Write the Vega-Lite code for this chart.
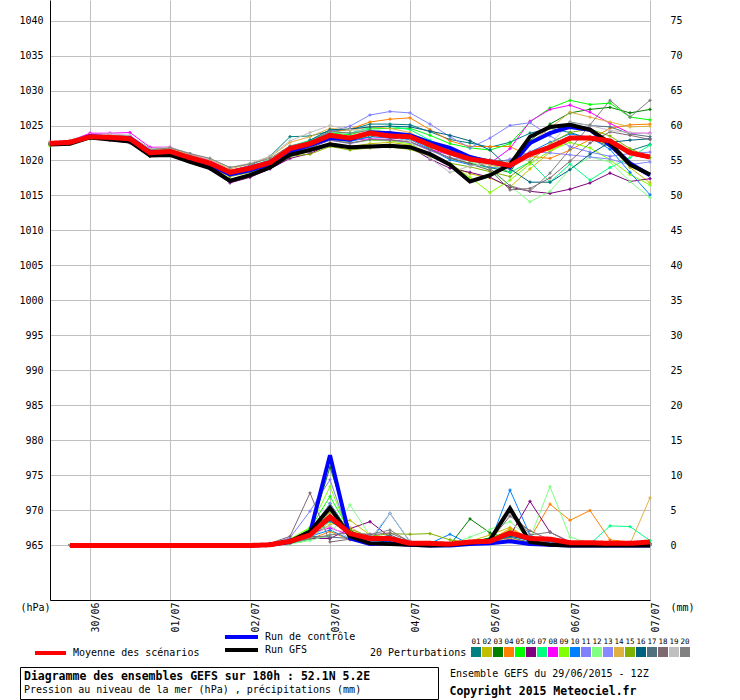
{
  "$schema": "https://vega.github.io/schema/vega-lite/v6.json",
  "width": 600,
  "height": 600,
  "autosize": {"type": "none"},
  "padding": {"left": 50, "top": 0, "right": 90, "bottom": 100},
  "background": "#ffffff",
  "config": {
    "view": {"stroke": null},
    "font": "DejaVu Sans Mono",
    "axis": {
      "labelFont": "DejaVu Sans Mono",
      "labelFontSize": 10,
      "labelColor": "#000000",
      "titleFont": "DejaVu Sans Mono",
      "titleFontSize": 10,
      "titleFontWeight": "normal",
      "titleColor": "#000000",
      "domainColor": "#000000",
      "gridColor": "#c0c0c0",
      "gridOpacity": 1,
      "ticks": false,
      "tickSize": 0,
      "labelFlush": false,
      "labelOverlap": false
    },
    "legend": {
      "labelFont": "DejaVu Sans Mono",
      "labelColor": "#000000",
      "titleFont": "DejaVu Sans Mono",
      "titleColor": "#000000",
      "labelLimit": 1000,
      "titleLimit": 1000
    }
  },
  "datasets": {
    "pres": [
      {"h":0,"01":1022.6,"02":1022.2,"03":1022.3,"04":1022.5,"05":1022.4,"06":1022.3,"07":1022.5,"08":1022.6,"09":1022.1,"10":1022.4,"11":1022.5,"12":1022.3,"13":1022.4,"14":1022.6,"15":1022.2,"16":1022.4,"17":1022.5,"18":1022.3,"19":1022.6,"20":1022.5,"ctrl":1022.4,"gfs":1022.3,"mean":1022.45},
      {"h":6,"01":1022.8,"02":1022.5,"03":1022.5,"04":1022.6,"05":1022.6,"06":1022.4,"07":1022.7,"08":1022.8,"09":1022.4,"10":1022.5,"11":1022.7,"12":1022.5,"13":1022.6,"14":1022.8,"15":1022.4,"16":1022.6,"17":1022.6,"18":1022.5,"19":1022.9,"20":1022.7,"ctrl":1022.5,"gfs":1022.4,"mean":1022.6},
      {"h":12,"01":1023.6,"02":1023.2,"03":1023.3,"04":1023.5,"05":1023.4,"06":1023.2,"07":1023.5,"08":1023.9,"09":1023.2,"10":1023.4,"11":1023.6,"12":1023.3,"13":1023.4,"14":1023.6,"15":1023.1,"16":1023.5,"17":1023.4,"18":1023.3,"19":1023.7,"20":1023.5,"ctrl":1023.5,"gfs":1023.3,"mean":1023.4},
      {"h":18,"01":1023.6,"02":1023.0,"03":1023.1,"04":1023.4,"05":1023.2,"06":1022.9,"07":1023.4,"08":1023.9,"09":1023.0,"10":1023.3,"11":1023.5,"12":1023.1,"13":1023.2,"14":1023.6,"15":1022.9,"16":1023.4,"17":1023.2,"18":1023.1,"19":1023.8,"20":1023.4,"ctrl":1023.3,"gfs":1023.0,"mean":1023.3},
      {"h":24,"01":1023.5,"02":1022.8,"03":1022.9,"04":1023.2,"05":1023.0,"06":1022.5,"07":1023.3,"08":1024.0,"09":1022.8,"10":1023.1,"11":1023.2,"12":1022.9,"13":1023.0,"14":1023.5,"15":1022.7,"16":1023.2,"17":1023.0,"18":1022.8,"19":1023.6,"20":1023.3,"ctrl":1023.2,"gfs":1022.7,"mean":1023.1},
      {"h":30,"01":1021.7,"02":1020.9,"03":1020.9,"04":1021.3,"05":1021.0,"06":1020.6,"07":1021.3,"08":1021.9,"09":1020.8,"10":1021.1,"11":1021.2,"12":1020.9,"13":1021.0,"14":1021.6,"15":1020.7,"16":1021.2,"17":1021.1,"18":1020.9,"19":1021.7,"20":1021.5,"ctrl":1021.2,"gfs":1020.7,"mean":1021.1},
      {"h":36,"01":1021.6,"02":1021.0,"03":1021.2,"04":1021.4,"05":1021.3,"06":1020.8,"07":1021.5,"08":1021.9,"09":1020.9,"10":1021.2,"11":1021.3,"12":1021.1,"13":1021.2,"14":1021.7,"15":1020.9,"16":1021.4,"17":1021.2,"18":1021.1,"19":1021.9,"20":1021.8,"ctrl":1021.2,"gfs":1020.8,"mean":1021.3},
      {"h":42,"01":1020.7,"02":1020.0,"03":1020.3,"04":1020.6,"05":1020.5,"06":1019.8,"07":1020.6,"08":1020.9,"09":1020.0,"10":1020.3,"11":1020.4,"12":1020.2,"13":1020.3,"14":1020.9,"15":1019.9,"16":1020.5,"17":1020.3,"18":1020.2,"19":1021.0,"20":1021.0,"ctrl":1020.3,"gfs":1019.8,"mean":1020.4},
      {"h":48,"01":1019.9,"02":1019.2,"03":1019.5,"04":1019.8,"05":1019.7,"06":1018.8,"07":1019.8,"08":1020.0,"09":1019.2,"10":1019.4,"11":1019.6,"12":1019.4,"13":1019.5,"14":1020.1,"15":1019.1,"16":1019.6,"17":1019.5,"18":1019.3,"19":1020.2,"20":1020.3,"ctrl":1019.4,"gfs":1018.9,"mean":1019.6},
      {"h":54,"01":1018.5,"02":1017.8,"03":1018.0,"04":1018.6,"05":1018.4,"06":1016.8,"07":1018.5,"08":1018.6,"09":1017.8,"10":1018.1,"11":1018.2,"12":1018.1,"13":1018.2,"14":1018.8,"15":1017.7,"16":1018.2,"17":1018.3,"18":1017.9,"19":1019.0,"20":1019.0,"ctrl":1018.0,"gfs":1017.1,"mean":1018.3},
      {"h":60,"01":1019.3,"02":1018.3,"03":1018.5,"04":1019.1,"05":1019.0,"06":1017.6,"07":1019.2,"08":1019.2,"09":1018.6,"10":1018.6,"11":1018.8,"12":1018.7,"13":1018.8,"14":1019.5,"15":1018.3,"16":1018.7,"17":1018.9,"18":1018.5,"19":1019.6,"20":1019.5,"ctrl":1018.6,"gfs":1017.9,"mean":1018.9},
      {"h":66,"01":1020.6,"02":1019.2,"03":1019.3,"04":1020.0,"05":1019.9,"06":1018.8,"07":1020.1,"08":1020.0,"09":1019.6,"10":1019.3,"11":1019.7,"12":1019.6,"13":1019.5,"14":1020.5,"15":1019.1,"16":1019.0,"17":1019.8,"18":1019.4,"19":1020.6,"20":1020.3,"ctrl":1019.5,"gfs":1019.0,"mean":1019.7},
      {"h":72,"01":1023.4,"02":1020.6,"03":1021.2,"04":1021.9,"05":1022.0,"06":1020.3,"07":1022.0,"08":1021.9,"09":1021.5,"10":1021.0,"11":1021.5,"12":1021.6,"13":1021.3,"14":1022.6,"15":1020.6,"16":1020.8,"17":1021.8,"18":1021.2,"19":1022.8,"20":1022.1,"ctrl":1021.3,"gfs":1020.8,"mean":1021.7},
      {"h":78,"01":1023.5,"02":1021.3,"03":1022.1,"04":1022.8,"05":1022.8,"06":1021.0,"07":1022.9,"08":1022.3,"09":1022.0,"10":1021.8,"11":1022.6,"12":1022.3,"13":1021.9,"14":1023.4,"15":1020.9,"16":1022.9,"17":1022.4,"18":1021.8,"19":1024.0,"20":1022.7,"ctrl":1022.2,"gfs":1021.5,"mean":1022.4},
      {"h":84,"01":1024.2,"02":1022.5,"03":1023.3,"04":1024.0,"05":1023.9,"06":1022.3,"07":1024.1,"08":1023.4,"09":1023.0,"10":1023.1,"11":1024.1,"12":1023.5,"13":1022.9,"14":1024.6,"15":1022.0,"16":1024.4,"17":1023.7,"18":1022.9,"19":1025.0,"20":1024.2,"ctrl":1023.2,"gfs":1022.3,"mean":1023.6},
      {"h":90,"01":1024.4,"02":1022.0,"03":1022.8,"04":1024.5,"05":1023.7,"06":1021.8,"07":1023.9,"08":1022.9,"09":1022.5,"10":1022.7,"11":1024.9,"12":1023.0,"13":1022.4,"14":1024.3,"15":1021.5,"16":1024.5,"17":1023.3,"18":1022.5,"19":1024.4,"20":1023.9,"ctrl":1023.0,"gfs":1021.9,"mean":1023.2},
      {"h":96,"01":1025.2,"02":1022.4,"03":1023.4,"04":1025.5,"05":1024.5,"06":1022.0,"07":1024.7,"08":1023.1,"09":1022.9,"10":1023.4,"11":1026.5,"12":1023.6,"13":1023.0,"14":1024.8,"15":1021.8,"16":1024.8,"17":1023.8,"18":1023.0,"19":1024.2,"20":1024.3,"ctrl":1024.0,"gfs":1022.0,"mean":1023.9},
      {"h":102,"01":1025.2,"02":1022.6,"03":1023.9,"04":1025.9,"05":1024.6,"06":1022.1,"07":1024.9,"08":1023.0,"09":1022.8,"10":1023.2,"11":1027.0,"12":1023.4,"13":1022.9,"14":1024.6,"15":1021.9,"16":1024.9,"17":1023.6,"18":1022.9,"19":1023.6,"20":1024.1,"ctrl":1023.9,"gfs":1022.1,"mean":1023.5},
      {"h":108,"01":1025.1,"02":1022.2,"03":1023.5,"04":1026.1,"05":1024.6,"06":1021.9,"07":1024.4,"08":1022.6,"09":1022.4,"10":1023.0,"11":1026.8,"12":1023.1,"13":1022.6,"14":1024.0,"15":1021.6,"16":1024.8,"17":1023.4,"18":1022.7,"19":1022.7,"20":1023.6,"ctrl":1023.6,"gfs":1021.9,"mean":1023.4},
      {"h":114,"01":1024.1,"02":1021.0,"03":1021.7,"04":1024.4,"05":1023.6,"06":1020.2,"07":1022.9,"08":1021.6,"09":1020.9,"10":1021.6,"11":1025.2,"12":1021.9,"13":1021.4,"14":1022.4,"15":1020.6,"16":1024.2,"17":1022.2,"18":1021.5,"19":1020.3,"20":1022.4,"ctrl":1022.6,"gfs":1020.9,"mean":1022.2},
      {"h":120,"01":1023.0,"02":1019.3,"03":1020.3,"04":1022.8,"05":1022.4,"06":1018.9,"07":1021.6,"08":1020.8,"09":1019.5,"10":1020.1,"11":1023.4,"12":1020.8,"13":1020.4,"14":1021.0,"15":1019.6,"16":1023.6,"17":1021.2,"18":1020.4,"19":1018.3,"20":1021.0,"ctrl":1021.8,"gfs":1019.4,"mean":1021.1},
      {"h":126,"01":1022.5,"02":1018.1,"03":1019.6,"04":1022.0,"05":1021.8,"06":1018.3,"07":1020.5,"08":1020.0,"09":1017.6,"10":1019.4,"11":1021.8,"12":1019.9,"13":1020.0,"14":1020.1,"15":1019.1,"16":1022.8,"17":1020.6,"18":1019.5,"19":1019.2,"20":1020.2,"ctrl":1020.5,"gfs":1017.0,"mean":1020.2},
      {"h":132,"01":1021.9,"02":1017.5,"03":1019.0,"04":1022.0,"05":1021.5,"06":1017.6,"07":1019.6,"08":1019.6,"09":1015.4,"10":1019.0,"11":1023.2,"12":1018.6,"13":1019.5,"14":1019.3,"15":1018.4,"16":1021.5,"17":1020.1,"18":1018.6,"19":1019.6,"20":1018.9,"ctrl":1019.8,"gfs":1017.9,"mean":1019.8},
      {"h":138,"01":1022.6,"02":1016.2,"03":1018.3,"04":1022.0,"05":1022.4,"06":1016.2,"07":1018.3,"08":1021.7,"09":1017.2,"10":1018.8,"11":1025.0,"12":1016.4,"13":1020.2,"14":1018.8,"15":1017.7,"16":1018.8,"17":1019.9,"18":1015.8,"19":1019.4,"20":1016.4,"ctrl":1019.1,"gfs":1019.4,"mean":1019.3},
      {"h":144,"01":1023.9,"02":1018.8,"03":1022.8,"04":1020.6,"05":1025.5,"06":1015.6,"07":1019.8,"08":1025.6,"09":1019.5,"10":1021.2,"11":1025.4,"12":1014.1,"13":1021.2,"14":1022.6,"15":1019.8,"16":1016.9,"17":1022.3,"18":1016.0,"19":1020.2,"20":1015.6,"ctrl":1022.5,"gfs":1023.4,"mean":1020.9},
      {"h":150,"01":1024.6,"02":1021.2,"03":1025.2,"04":1020.3,"05":1027.5,"06":1015.3,"07":1016.9,"08":1027.3,"09":1021.4,"10":1022.6,"11":1023.5,"12":1015.6,"13":1021.1,"14":1024.6,"15":1022.4,"16":1016.9,"17":1023.8,"18":1017.5,"19":1022.3,"20":1018.2,"ctrl":1023.9,"gfs":1024.8,"mean":1021.9},
      {"h":156,"01":1024.0,"02":1023.0,"03":1026.8,"04":1021.5,"05":1028.6,"06":1015.9,"07":1019.5,"08":1027.9,"09":1022.6,"10":1023.8,"11":1022.0,"12":1018.8,"13":1020.8,"14":1026.9,"15":1024.0,"16":1018.7,"17":1025.5,"18":1019.9,"19":1025.4,"20":1021.6,"ctrl":1024.8,"gfs":1025.1,"mean":1023.2},
      {"h":162,"01":1023.1,"02":1023.4,"03":1027.3,"04":1023.0,"05":1028.0,"06":1016.8,"07":1017.2,"08":1026.9,"09":1021.8,"10":1023.3,"11":1021.2,"12":1020.5,"13":1020.5,"14":1026.2,"15":1024.5,"16":1020.9,"17":1025.0,"18":1022.5,"19":1025.0,"20":1025.1,"ctrl":1024.4,"gfs":1024.4,"mean":1023.2},
      {"h":168,"01":1022.0,"02":1022.0,"03":1027.6,"04":1024.6,"05":1028.2,"06":1018.2,"07":1019.0,"08":1025.3,"09":1020.1,"10":1021.6,"11":1020.6,"12":1019.8,"13":1020.2,"14":1025.5,"15":1023.5,"16":1022.6,"17":1024.8,"18":1024.1,"19":1024.3,"20":1028.6,"ctrl":1022.2,"gfs":1022.5,"mean":1022.8},
      {"h":174,"01":1021.4,"02":1019.0,"03":1026.8,"04":1025.1,"05":1026.2,"06":1017.0,"07":1020.4,"08":1023.9,"09":1018.0,"10":1018.3,"11":1021.0,"12":1017.0,"13":1019.4,"14":1024.8,"15":1021.7,"16":1022.9,"17":1023.8,"18":1023.6,"19":1024.0,"20":1026.2,"ctrl":1019.6,"gfs":1019.4,"mean":1021.1},
      {"h":180,"01":1022.3,"02":1016.8,"03":1027.3,"04":1025.2,"05":1025.8,"06":1017.4,"07":1022.2,"08":1023.9,"09":1016.5,"10":1015.1,"11":1021.2,"12":1014.7,"13":1019.8,"14":1024.9,"15":1020.4,"16":1023.1,"17":1023.4,"18":1023.0,"19":1023.8,"20":1028.6,"ctrl":1017.9,"gfs":1018.0,"mean":1020.5}
    ],
    "prec": [
      {"h":6,"01":0,"02":0,"03":0,"04":0,"05":0,"06":0,"07":0,"08":0,"09":0,"10":0,"11":0,"12":0,"13":0,"14":0,"15":0,"16":0,"17":0,"18":0,"19":0,"20":0,"ctrl":0,"gfs":0,"mean":0},
      {"h":12,"01":0,"02":0,"03":0,"04":0,"05":0,"06":0,"07":0,"08":0,"09":0,"10":0,"11":0,"12":0,"13":0,"14":0,"15":0,"16":0,"17":0,"18":0,"19":0,"20":0,"ctrl":0,"gfs":0,"mean":0},
      {"h":18,"01":0,"02":0,"03":0,"04":0,"05":0,"06":0,"07":0,"08":0,"09":0,"10":0,"11":0,"12":0,"13":0,"14":0,"15":0,"16":0,"17":0,"18":0,"19":0,"20":0,"ctrl":0,"gfs":0,"mean":0},
      {"h":24,"01":0,"02":0,"03":0,"04":0,"05":0,"06":0,"07":0,"08":0,"09":0,"10":0,"11":0,"12":0,"13":0,"14":0,"15":0,"16":0,"17":0,"18":0,"19":0,"20":0,"ctrl":0,"gfs":0,"mean":0},
      {"h":30,"01":0,"02":0,"03":0,"04":0,"05":0,"06":0,"07":0,"08":0,"09":0,"10":0,"11":0,"12":0,"13":0,"14":0,"15":0,"16":0,"17":0,"18":0,"19":0,"20":0,"ctrl":0,"gfs":0,"mean":0},
      {"h":36,"01":0,"02":0,"03":0,"04":0,"05":0,"06":0,"07":0,"08":0,"09":0,"10":0,"11":0,"12":0,"13":0,"14":0,"15":0,"16":0,"17":0,"18":0,"19":0,"20":0,"ctrl":0,"gfs":0,"mean":0},
      {"h":42,"01":0,"02":0,"03":0,"04":0,"05":0,"06":0,"07":0,"08":0,"09":0,"10":0,"11":0,"12":0,"13":0,"14":0,"15":0,"16":0,"17":0,"18":0,"19":0,"20":0,"ctrl":0,"gfs":0,"mean":0},
      {"h":48,"01":0,"02":0,"03":0,"04":0,"05":0,"06":0,"07":0,"08":0,"09":0,"10":0,"11":0,"12":0,"13":0,"14":0,"15":0,"16":0,"17":0,"18":0,"19":0,"20":0,"ctrl":0,"gfs":0,"mean":0},
      {"h":54,"01":0,"02":0,"03":0,"04":0,"05":0,"06":0,"07":0,"08":0,"09":0,"10":0,"11":0,"12":0,"13":0,"14":0,"15":0,"16":0,"17":0,"18":0,"19":0,"20":0,"ctrl":0,"gfs":0,"mean":0},
      {"h":60,"01":0,"02":0,"03":0,"04":0,"05":0,"06":0,"07":0,"08":0,"09":0,"10":0,"11":0,"12":0,"13":0,"14":0,"15":0,"16":0,"17":0,"18":0,"19":0,"20":0,"ctrl":0,"gfs":0,"mean":0},
      {"h":66,"01":0.1,"02":0,"03":0.1,"04":0,"05":0.1,"06":0.2,"07":0,"08":0.1,"09":0.1,"10":0,"11":0.2,"12":0,"13":0.1,"14":0.1,"15":0.1,"16":0.2,"17":0.1,"18":0.3,"19":0.1,"20":0,"ctrl":0.1,"gfs":0.1,"mean":0.1},
      {"h":72,"01":0.6,"02":0.4,"03":0.8,"04":0.3,"05":0.7,"06":0.5,"07":0.3,"08":0.5,"09":0.9,"10":0.4,"11":1.1,"12":0.2,"13":0.6,"14":0.5,"15":0.6,"16":0.8,"17":0.5,"18":1.3,"19":0.4,"20":0.3,"ctrl":0.5,"gfs":0.6,"mean":0.6},
      {"h":78,"01":1.5,"02":1.2,"03":1.8,"04":0.9,"05":2.4,"06":1.0,"07":0.9,"08":1.8,"09":2.6,"10":1.3,"11":4.9,"12":0.7,"13":2.0,"14":1.6,"15":1.4,"16":1.9,"17":1.3,"18":7.5,"19":1.2,"20":1.0,"ctrl":1.8,"gfs":2.0,"mean":1.5},
      {"h":84,"01":6.0,"02":3.0,"03":11.2,"04":2.0,"05":7.0,"06":1.0,"07":3.5,"08":2.5,"09":8.4,"10":2.2,"11":9.4,"12":1.5,"13":6.0,"14":4.3,"15":4.8,"16":3.5,"17":1.2,"18":0.5,"19":2.8,"20":1.5,"ctrl":12.9,"gfs":5.4,"mean":4.1},
      {"h":90,"01":1.8,"02":3.6,"03":2.2,"04":0.8,"05":2.0,"06":2.4,"07":1.6,"08":1.5,"09":1.5,"10":0.9,"11":1.2,"12":5.8,"13":1.4,"14":2.6,"15":2.3,"16":1.7,"17":1.0,"18":0.9,"19":1.0,"20":1.8,"ctrl":1.0,"gfs":1.3,"mean":1.7},
      {"h":96,"01":0.8,"02":1.5,"03":0.6,"04":0.4,"05":0.7,"06":3.4,"07":0.9,"08":1.6,"09":0.5,"10":0.5,"11":0.4,"12":1.4,"13":0.6,"14":1.0,"15":1.3,"16":0.9,"17":0.8,"18":1.5,"19":0.9,"20":1.6,"ctrl":0.2,"gfs":0.3,"mean":1.0},
      {"h":102,"01":0.6,"02":0.8,"03":0.4,"04":0.6,"05":0.3,"06":1.2,"07":0.5,"08":0.4,"09":0.3,"10":4.6,"11":0.2,"12":0.6,"13":0.3,"14":0.8,"15":1.7,"16":0.4,"17":1.5,"18":1.8,"19":4.6,"20":2.2,"ctrl":0.3,"gfs":0.2,"mean":1.0},
      {"h":108,"01":0.2,"02":0.3,"03":0.2,"04":0.3,"05":0.1,"06":0.6,"07":0.2,"08":0.2,"09":0.1,"10":0.5,"11":0.1,"12":0.2,"13":0.1,"14":0.3,"15":1.6,"16":0.2,"17":0.4,"18":0.6,"19":0.6,"20":0.5,"ctrl":0.1,"gfs":0.1,"mean":0.3},
      {"h":114,"01":0.1,"02":0.5,"03":0.1,"04":0.2,"05":0,"06":0.3,"07":0.1,"08":0.1,"09":0.1,"10":0.3,"11":0,"12":0.1,"13":0.1,"14":0.2,"15":1.7,"16":0.1,"17":0.2,"18":0.2,"19":0.2,"20":0.3,"ctrl":0,"gfs":0,"mean":0.3},
      {"h":120,"01":0,"02":0.2,"03":0.1,"04":0.1,"05":0.1,"06":0.1,"07":0,"08":0.1,"09":0,"10":1.6,"11":0,"12":0.1,"13":0.1,"14":0.1,"15":0.8,"16":0.1,"17":0.1,"18":0.1,"19":0.1,"20":0.2,"ctrl":0,"gfs":0.1,"mean":0.2},
      {"h":126,"01":0.3,"02":0.6,"03":3.8,"04":0.3,"05":0.4,"06":0.2,"07":0.3,"08":0.2,"09":0.3,"10":0.2,"11":0.2,"12":1.2,"13":0.2,"14":0.2,"15":0.4,"16":0.3,"17":0.2,"18":0.3,"19":0.3,"20":0.4,"ctrl":0.2,"gfs":0.4,"mean":0.5},
      {"h":132,"01":0.5,"02":1.5,"03":1.8,"04":0.8,"05":1.1,"06":0.6,"07":0.9,"08":0.5,"09":0.7,"10":0.4,"11":0.6,"12":2.3,"13":0.5,"14":0.4,"15":0.6,"16":0.6,"17":0.5,"18":0.7,"19":0.6,"20":0.7,"ctrl":0.3,"gfs":0.8,"mean":0.6},
      {"h":138,"01":1.2,"02":2.6,"03":0.9,"04":2.4,"05":2.0,"06":1.4,"07":1.6,"08":0.9,"09":2.2,"10":7.9,"11":1.8,"12":3.4,"13":1.4,"14":1.0,"15":1.6,"16":1.3,"17":1.7,"18":4.2,"19":4.6,"20":5.2,"ctrl":0.6,"gfs":5.3,"mean":1.8},
      {"h":144,"01":0.4,"02":0.9,"03":0.5,"04":1.0,"05":0.6,"06":6.3,"07":0.7,"08":0.3,"09":0.6,"10":1.5,"11":0.5,"12":1.0,"13":0.6,"14":0.4,"15":0.7,"16":0.8,"17":0.9,"18":2.1,"19":0.9,"20":1.5,"ctrl":0.2,"gfs":0.5,"mean":1.0},
      {"h":150,"01":0.2,"02":0.3,"03":0.3,"04":5.9,"05":0.2,"06":1.9,"07":0.4,"08":0.1,"09":0.2,"10":0.2,"11":0.2,"12":8.4,"13":0.3,"14":0.2,"15":0.3,"16":0.5,"17":0.4,"18":0.8,"19":0.3,"20":1.9,"ctrl":0.1,"gfs":0.1,"mean":0.9},
      {"h":156,"01":0.1,"02":0.1,"03":0.2,"04":3.6,"05":0.1,"06":0.5,"07":0.3,"08":0.1,"09":0.1,"10":0.1,"11":0.1,"12":1.2,"13":0.1,"14":0.1,"15":0.2,"16":0.2,"17":0.2,"18":0.3,"19":0.2,"20":0.5,"ctrl":0,"gfs":0,"mean":0.4},
      {"h":162,"01":0.1,"02":0,"03":0.1,"04":5.0,"05":0,"06":0.3,"07":0.2,"08":0,"09":0.1,"10":0,"11":0.1,"12":0.3,"13":0,"14":0,"15":0.1,"16":0.1,"17":0.1,"18":0.2,"19":0.1,"20":0.2,"ctrl":0,"gfs":0,"mean":0.4},
      {"h":168,"01":0,"02":0,"03":0.1,"04":0.8,"05":0,"06":0.5,"07":2.8,"08":0,"09":0,"10":0,"11":0,"12":0.2,"13":0,"14":0,"15":0.1,"16":0.1,"17":0,"18":0.1,"19":0,"20":0.1,"ctrl":0,"gfs":0,"mean":0.3},
      {"h":174,"01":0.1,"02":0,"03":0,"04":0.5,"05":0.1,"06":0.4,"07":2.7,"08":0,"09":0,"10":0,"11":0,"12":0.1,"13":0,"14":0.2,"15":0,"16":0.1,"17":0.1,"18":0.1,"19":0,"20":0.1,"ctrl":0,"gfs":0,"mean":0.3},
      {"h":180,"01":0.2,"02":0.1,"03":0.3,"04":0.2,"05":0.2,"06":0.2,"07":0.7,"08":0.1,"09":0.1,"10":0,"11":0.1,"12":0.2,"13":0.1,"14":6.8,"15":0.1,"16":0.2,"17":0.1,"18":0.2,"19":0.1,"20":0.1,"ctrl":0,"gfs":0,"mean":0.5}
    ]
  },
  "encoding": {
    "x": {
      "field": "h",
      "type": "quantitative",
      "scale": {"domain": [0, 180], "nice": false, "zero": false},
      "axis": {
        "values": [12, 36, 60, 84, 108, 132, 156, 180],
        "labelExpr": "utcFormat(utc(2015, 5, 29, 12 + datum.value), '%d/%m')",
        "labelAngle": -90,
        "labelAlign": "right",
        "labelBaseline": "top",
        "labelPadding": 2,
        "grid": true,
        "title": null
      }
    }
  },
  "layer": [
    {
      "data": {"name": "pres"},
      "encoding": {
        "y": {
          "field": "p",
          "type": "quantitative",
          "scale": {"domain": [957.21, 1042.93], "nice": false, "zero": false},
          "axis": {
            "values": [965, 970, 975, 980, 985, 990, 995, 1000, 1005, 1010, 1015, 1020, 1025, 1030, 1035, 1040],
            "format": "d",
            "grid": true,
            "labelPadding": 7,
            "title": "(hPa)",
            "titleAngle": 0,
            "titleX": -30,
            "titleY": 607,
            "titleAlign": "left",
            "titleBaseline": "middle"
          }
        }
      },
      "layer": [
        {
          "transform": [{"fold": ["01","02","03","04","05","06","07","08","09","10","11","12","13","14","15","16","17","18","19","20"], "as": ["member", "p"]}],
          "layer": [
            {
              "mark": {"type": "line", "strokeWidth": 1},
              "encoding": {
                "color": {
                  "field": "member",
                  "type": "nominal",
                  "scale": {
                    "domain": ["01","02","03","04","05","06","07","08","09","10","11","12","13","14","15","16","17","18","19","20"],
                    "range": ["#008080","#c0c000","#008000","#ff8000","#00ff00","#800080","#00ff80","#ff00ff","#80ff00","#0080ff","#8080ff","#80ff80","#8888ff","#e0b040","#80b000","#006080","#507080","#806870","#c0c0c0","#808080"]
                  },
                  "legend": {
                    "orient": "none",
                    "legendX": 320,
                    "legendY": 634,
                    "direction": "horizontal",
                    "title": "20 Perturbations",
                    "titleOrient": "left",
                    "titleFontWeight": "normal",
                    "titleFontSize": 10,
                    "titlePadding": 4,
                    "symbolType": "square",
                    "symbolSize": 100,
                    "symbolStrokeWidth": 0,
                    "labelFontSize": 7.5,
                    "columnPadding": 1,
                    "rowPadding": 0,
                    "padding": 0,
                    "encode": {
                      "symbols": {
                        "update": {
                          "x": {"value": 5},
                          "y": {"value": 18},
                          "shape": {"value": "square"},
                          "fill": {"signal": "scale('color', datum.value)"},
                          "stroke": {"value": "transparent"}
                        }
                      },
                      "labels": {
                        "update": {
                          "x": {"value": 5},
                          "y": {"value": 8},
                          "align": {"value": "center"},
                          "baseline": {"value": "middle"}
                        }
                      },
                      "title": {
                        "update": {
                          "angle": {"value": 0},
                          "align": {"value": "left"},
                          "baseline": {"value": "middle"},
                          "dy": {"value": 7}
                        }
                      }
                    }
                  }
                }
              }
            },
            {
              "mark": {"type": "point", "filled": true, "size": 10, "opacity": 1, "strokeWidth": 0, "shape": "cross"},
              "encoding": {
                "color": {"field": "member", "type": "nominal", "legend": null}
              }
            }
          ]
        },
        {
          "transform": [{"fold": ["ctrl", "gfs"], "as": ["member", "p"]}],
          "mark": {"type": "line", "strokeWidth": 4},
          "encoding": {
            "stroke": {
              "field": "member",
              "type": "nominal",
              "scale": {"domain": ["ctrl", "gfs"], "range": ["#0000ff", "#000000"]},
              "legend": {
                "orient": "none",
                "legendX": 175,
                "legendY": 632,
                "title": null,
                "labelExpr": "datum.value == 'ctrl' ? 'Run de contrôle' : 'Run GFS'",
                "symbolType": "stroke",
                "symbolSize": 1089,
                "symbolStrokeWidth": 4,
                "labelFontSize": 10,
                "rowPadding": -10,
                "padding": 0,
                "encode": {
                  "symbols": {"update": {"x": {"value": 16.5}, "y": {"value": 5}}},
                  "labels": {"update": {"x": {"value": 40}, "y": {"value": 5}, "baseline": {"value": "middle"}}}
                }
              }
            }
          }
        },
        {
          "mark": {"type": "line", "strokeWidth": 5, "stroke": "#ff0000"},
          "encoding": {
            "y": {"field": "mean", "type": "quantitative"},
            "strokeDash": {
              "datum": "Moyenne des scénarios",
              "scale": {"range": [[1, 0]]},
              "legend": {
                "orient": "none",
                "legendX": -15,
                "legendY": 648,
                "title": null,
                "symbolType": "stroke",
                "symbolSize": 961,
                "symbolStrokeWidth": 4,
                "symbolStrokeColor": "#ff0000",
                "labelFontSize": 10,
                "padding": 0,
                "encode": {
                  "symbols": {"update": {"x": {"value": 15.5}, "y": {"value": 5}, "stroke": {"value": "#ff0000"}}},
                  "labels": {"update": {"x": {"value": 38}, "y": {"value": 5}, "baseline": {"value": "middle"}}}
                }
              }
            }
          }
        },
        {
          "transform": [{"filter": "datum.h == 0"}],
          "mark": {"type": "point", "opacity": 0},
          "encoding": {
            "y": {"field": "mean", "type": "quantitative"},
            "shape": {
              "datum": "Pression au niveau de la mer (hPa) , précipitations (mm)",
              "scale": {"range": ["stroke"]},
              "legend": {
                "orient": "none",
                "legendX": -30,
                "legendY": 667,
                "title": "Diagramme des ensembles GEFS sur 180h : 52.1N 5.2E",
                "titleFontSize": 11.5,
                "titleFontWeight": "bold",
                "titlePadding": 2,
                "labelFontSize": 10,
                "symbolSize": 100,
                "symbolStrokeWidth": 0,
                "symbolOpacity": 0,
                "symbolOffset": 400,
                "labelOffset": -410,
                "strokeColor": "#000000",
                "padding": 4
              }
            },
            "fill": {
              "datum": "Copyright 2015 Meteociel.fr",
              "scale": {"range": ["transparent"]},
              "legend": {
                "orient": "none",
                "legendX": 400,
                "legendY": 669,
                "title": "Ensemble GEFS du 29/06/2015 - 12Z",
                "titleFontSize": 10,
                "titleFontWeight": "normal",
                "titlePadding": 7,
                "labelFontSize": 11.5,
                "labelFontWeight": "bold",
                "symbolSize": 1,
                "symbolStrokeWidth": 0,
                "symbolOpacity": 0,
                "labelOffset": -12,
                "padding": 0
              }
            }
          }
        },
        {
          "transform": [{"filter": "datum.h == 0"}],
          "mark": {"type": "text", "align": "left", "baseline": "middle", "fontSize": 10, "font": "DejaVu Sans Mono", "color": "#000000"},
          "encoding": {
            "x": {"datum": 3},
            "y": {"datum": 1025.2},
            "text": {"value": "Pression"}
          }
        }
      ]
    },
    {
      "data": {"name": "prec"},
      "encoding": {
        "y": {
          "field": "r",
          "type": "quantitative",
          "scale": {"domain": [-7.79, 77.93], "nice": false, "zero": false},
          "axis": {
            "orient": "right",
            "values": [0, 5, 10, 15, 20, 25, 30, 35, 40, 45, 50, 55, 60, 65, 70, 75],
            "grid": false,
            "domain": false,
            "labelPadding": 20,
            "title": "(mm)",
            "titleAngle": 0,
            "titleX": 20,
            "titleY": 607,
            "titleAlign": "left",
            "titleBaseline": "middle"
          }
        }
      },
      "layer": [
        {
          "transform": [{"fold": ["01","02","03","04","05","06","07","08","09","10","11","12","13","14","15","16","17","18","19","20"], "as": ["member", "r"]}],
          "layer": [
            {
              "mark": {"type": "line", "strokeWidth": 1},
              "encoding": {"color": {"field": "member", "type": "nominal", "legend": null}}
            },
            {
              "mark": {"type": "point", "filled": true, "size": 10, "opacity": 1, "strokeWidth": 0, "shape": "cross"},
              "encoding": {"color": {"field": "member", "type": "nominal", "legend": null}}
            }
          ]
        },
        {
          "transform": [{"fold": ["ctrl", "gfs"], "as": ["member", "r"]}],
          "mark": {"type": "line", "strokeWidth": 4},
          "encoding": {"stroke": {"field": "member", "type": "nominal", "legend": null}}
        },
        {
          "mark": {"type": "line", "strokeWidth": 5, "stroke": "#ff0000"},
          "encoding": {
            "y": {"field": "mean", "type": "quantitative"},
            "strokeDash": {"datum": "Moyenne des scénarios", "legend": null}
          }
        },
        {
          "transform": [{"filter": "datum.h == 6"}],
          "mark": {"type": "text", "align": "left", "baseline": "middle", "fontSize": 10, "font": "DejaVu Sans Mono", "color": "#000000"},
          "encoding": {
            "x": {"datum": 3},
            "y": {"datum": 1.4},
            "text": {"value": "Précipitations"}
          }
        }
      ]
    }
  ],
  "resolve": {"scale": {"y": "independent"}}
}
